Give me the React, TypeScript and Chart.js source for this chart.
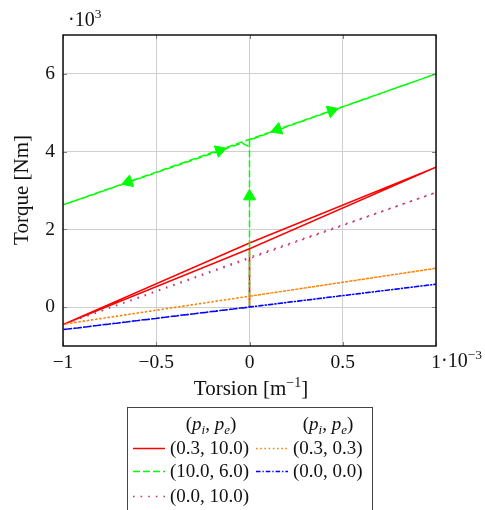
import React, { useEffect, useRef } from "react";
import { Chart, registerables } from "chart.js";
Chart.register(...registerables);

const FONT = '"Liberation Serif", "DejaVu Serif", serif';

// axis ticks (x in 10^-3 m^-1, y in 10^3 Nm)
const xTicks = [-1, -0.5, 0, 0.5, 1];
const yTicks = [0, 2, 4, 6];

// (0.3, 10.0) red solid
const redX = [0, 0, 1, 0, -1, 0];
const redY = [0, 1.5, 3.6, 1.65, -0.45, 1.5];
// (10.0, 6.0) green dashed
const greenX = [0, 0, 0, 1, -1, -0.04, 0];
const greenY = [0, 1.5, 4.3, 6.0, 2.63, 4.22, 4.12];
// (0.0, 10.0) purple dotted
const purpleX = [0, 0, 1, -1, 0];
const purpleY = [0, 1.28, 2.95, -0.45, 1.28];
// (0.3, 0.3) orange dotted
const orangeX = [0, 0, 1, -1, 0];
const orangeY = [0, 0.28, 1.0, -0.44, 0.28];
// (0.0, 0.0) blue dash-dot
const blueX = [0, 1, -1, 0];
const blueY = [0, 0.59, -0.58, 0];

// arrow markers on the green loop
const arrowX = [0, 0.44, 0.15, -0.65, -0.16];
const arrowY = [2.85, 5.05, 4.57, 3.22, 4.03];
const arrowDX = [0, 1, -1, -1, 1];
const arrowDY = [1, 1.685, -1.685, -1.685, 1.685];

const legendLabels = ["(0.3, 10.0)", "(10.0, 6.0)", "(0.0, 10.0)", "(0.3, 0.3)", "(0.0, 0.0)"];

const RED = "#ff0000";
const GREEN = "#00ff00";
const PURPLE = "#c8306e";
const ORANGE = "#ff8000";
const BLUE = "#0000ff";

const DASH_GREEN = [7, 3];
const DASH_PURPLE = [1.6, 6];
const DASH_ORANGE = [1.6, 2.6];
const DASH_BLUE = [4.5, 2, 1.3, 2];

function pts(xs: number[], ys: number[]) {
  return xs.map((x, i) => ({ x, y: ys[i] }));
}

type Run = { t: string; size: number; italic?: boolean; dy?: number };

function drawRuns(ctx: CanvasRenderingContext2D, x: number, y: number, runs: Run[], align: "left" | "center" = "left") {
  ctx.save();
  ctx.textBaseline = "alphabetic";
  ctx.textAlign = "left";
  let total = 0;
  const widths = runs.map((r) => {
    ctx.font = `${r.italic ? "italic " : ""}${r.size}px ${FONT}`;
    const w = ctx.measureText(r.t).width;
    total += w;
    return w;
  });
  let cx = align === "center" ? x - total / 2 : x;
  runs.forEach((r, i) => {
    ctx.font = `${r.italic ? "italic " : ""}${r.size}px ${FONT}`;
    ctx.fillText(r.t, cx, y + (r.dy || 0));
    cx += widths[i];
  });
  ctx.restore();
}

const decorPlugin = {
  id: "decor",
  afterDraw(chart: any) {
    const ctx: CanvasRenderingContext2D = chart.ctx;
    const { left, right, top, bottom } = chart.chartArea;
    const xs = chart.scales.x;
    const ys = chart.scales.y;
    ctx.save();
    // tick marks
    ctx.strokeStyle = "#808080";
    ctx.lineWidth = 1;
    xTicks.forEach((v) => {
      const px = Math.round(xs.getPixelForValue(v)) + 0.5;
      ctx.beginPath();
      ctx.moveTo(px, bottom);
      ctx.lineTo(px, bottom - 4);
      ctx.moveTo(px, top);
      ctx.lineTo(px, top + 4);
      ctx.stroke();
    });
    yTicks.forEach((v) => {
      const py = Math.round(ys.getPixelForValue(v)) + 0.5;
      ctx.beginPath();
      ctx.moveTo(left, py);
      ctx.lineTo(left + 4, py);
      ctx.moveTo(right, py);
      ctx.lineTo(right - 4, py);
      ctx.stroke();
    });
    // frame
    ctx.strokeStyle = "#000";
    ctx.lineWidth = 1.4;
    ctx.strokeRect(left, top, right - left, bottom - top);

    ctx.fillStyle = "#111";
    // y scale factor
    drawRuns(ctx, 68, 26, [
      { t: "·10", size: 20 },
      { t: "3", size: 13.5, dy: -8 },
    ]);
    // x scale factor
    const p1 = xs.getPixelForValue(1);
    drawRuns(ctx, p1 + 5, 367, [
      { t: "·10", size: 20 },
      { t: "−3", size: 13.5, dy: -8 },
    ]);
    // x title
    drawRuns(
      ctx,
      251,
      395,
      [
        { t: "Torsion [m", size: 21 },
        { t: "−1", size: 14, dy: -8 },
        { t: "]", size: 21 },
      ],
      "center"
    );
    // y title
    ctx.save();
    ctx.translate(28, 190);
    ctx.rotate(-Math.PI / 2);
    drawRuns(ctx, 0, 0, [{ t: "Torque [Nm]", size: 21 }], "center");
    ctx.restore();

    // legend box
    ctx.fillStyle = "#fff";
    ctx.fillRect(127.5, 407.5, 245, 120);
    ctx.strokeStyle = "#444";
    ctx.lineWidth = 1;
    ctx.strokeRect(127.5, 407.5, 245, 120);
    ctx.fillStyle = "#111";
    const header: Run[] = [
      { t: "(", size: 19 },
      { t: "p", size: 19, italic: true },
      { t: "i", size: 13, italic: true, dy: 4 },
      { t: ", ", size: 19 },
      { t: "p", size: 19, italic: true },
      { t: "e", size: 13, italic: true, dy: 4 },
      { t: ")", size: 19 },
    ];
    drawRuns(ctx, 211, 430, header, "center");
    drawRuns(ctx, 328, 430, header, "center");

    const entries = [
      { c: RED, d: [] as number[], col: 0, row: 0 },
      { c: GREEN, d: DASH_GREEN, col: 0, row: 1 },
      { c: PURPLE, d: DASH_PURPLE, col: 0, row: 2 },
      { c: ORANGE, d: DASH_ORANGE, col: 1, row: 0 },
      { c: BLUE, d: DASH_BLUE, col: 1, row: 1 },
    ];
    const rowY = [448, 471, 496];
    entries.forEach((e, i) => {
      const y = rowY[e.row];
      const x0 = e.col === 0 ? 133 : 256;
      const x1 = e.col === 0 ? 165 : 288;
      const tx = e.col === 0 ? 170 : 293;
      ctx.save();
      ctx.strokeStyle = e.c;
      ctx.lineWidth = 1.5;
      ctx.setLineDash(e.d);
      ctx.beginPath();
      ctx.moveTo(x0, y + 0.5);
      ctx.lineTo(x1, y + 0.5);
      ctx.stroke();
      ctx.restore();
      ctx.fillStyle = "#111";
      drawRuns(ctx, tx, y + 6, [{ t: legendLabels[i], size: 19 }]);
    });
    ctx.restore();
  },
};

function fmt(v: number) {
  if (v === 1) return "1";
  const s = String(v);
  return s.replace("-", "−");
}

export default function App() {
  const ref = useRef<HTMLCanvasElement | null>(null);
  useEffect(() => {
    if (!ref.current) return;
    const line = (data: any, color: string, dash: number[], order: number) => ({
      data,
      borderColor: color,
      backgroundColor: color,
      borderWidth: 1.5,
      borderDash: dash,
      pointRadius: 0,
      showLine: true,
      fill: false,
      tension: 0,
      order,
    });
    const chart = new Chart(ref.current, {
      type: "scatter",
      data: {
        datasets: [
          line(pts(blueX, blueY), BLUE, DASH_BLUE, 1),
          line(pts(orangeX, orangeY), ORANGE, DASH_ORANGE, 2),
          line(pts(purpleX, purpleY), PURPLE, DASH_PURPLE, 3),
          line(pts(greenX, greenY), GREEN, DASH_GREEN, 4),
          line(pts(redX, redY), RED, [], 5),
          {
            data: pts(arrowX, arrowY),
            showLine: false,
            pointStyle: "triangle",
            pointRadius: 7,
            pointHoverRadius: 7,
            backgroundColor: GREEN,
            borderColor: GREEN,
            borderWidth: 1,
            order: 0,
            rotation: (c: any) => {
              const i = c.dataIndex;
              const sx = c.chart.scales.x;
              const sy = c.chart.scales.y;
              const kx = Math.abs(sx.getPixelForValue(1) - sx.getPixelForValue(0));
              const ky = Math.abs(sy.getPixelForValue(1) - sy.getPixelForValue(0));
              const dxp = arrowDX[i] * kx;
              const dyp = -arrowDY[i] * ky;
              return (Math.atan2(dxp, -dyp) * 180) / Math.PI;
            },
          } as any,
        ],
      },
      options: {
        animation: false,
        responsive: false,
        events: [],
        layout: { padding: { left: 0, top: 35, right: 49, bottom: 124 } },
        plugins: { legend: { display: false }, tooltip: { enabled: false } },
        scales: {
          x: {
            type: "linear",
            min: -1,
            max: 1,
            afterFit: (s: any) => {
              s.height = 40;
            },
            afterBuildTicks: (s: any) => {
              s.ticks = xTicks.map((v) => ({ value: v }));
            },
            grid: { color: "#cfcfcf", lineWidth: 1, drawTicks: false },
            border: { display: false },
            ticks: {
              padding: 5,
              color: "#111",
              font: { family: FONT, size: 19.5 },
              callback: (v: any) => fmt(Number(v)),
              maxRotation: 0,
            },
          },
          y: {
            type: "linear",
            min: -1,
            max: 7,
            afterFit: (s: any) => {
              s.width = 63;
            },
            afterBuildTicks: (s: any) => {
              s.ticks = yTicks.map((v) => ({ value: v }));
            },
            grid: { color: "#cfcfcf", lineWidth: 1, drawTicks: false },
            border: { display: false },
            ticks: {
              padding: 8,
              color: "#111",
              font: { family: FONT, size: 19.5 },
              callback: (v: any) => fmt(Number(v)),
            },
          },
        },
      },
      plugins: [decorPlugin],
    } as any);
    return () => chart.destroy();
  }, []);
  return (
    <div style={{ position: "absolute", left: 0, top: 0, width: 485, height: 510, background: "#fff" }}>
      <canvas ref={ref} width={485} height={510} style={{ display: "block", width: 485, height: 510 }} />
    </div>
  );
}
